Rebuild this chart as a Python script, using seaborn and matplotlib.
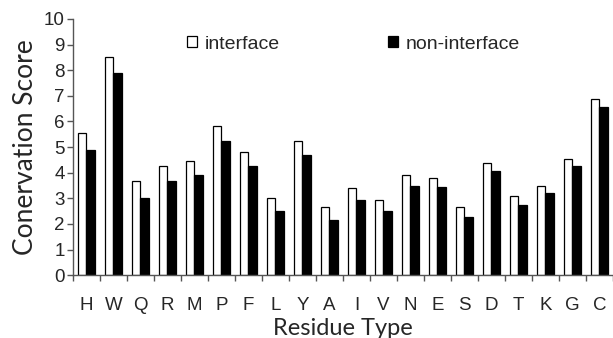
import matplotlib
matplotlib.use("Agg")
import matplotlib.pyplot as plt
import seaborn as sns
import pandas as pd
import numpy as np
from matplotlib.patches import Patch

residues = ["H", "W", "Q", "R", "M", "P", "F", "L", "Y", "A",
            "I", "V", "N", "E", "S", "D", "T", "K", "G", "C"]
interface = [5.53, 8.53, 3.67, 4.27, 4.44, 5.83, 4.79, 3.03, 5.22, 2.67,
             3.41, 2.92, 3.92, 3.78, 2.67, 4.36, 3.10, 3.48, 4.54, 6.86]
non_interface = [4.88, 7.90, 3.00, 3.67, 3.90, 5.23, 4.27, 2.50, 4.70, 2.15,
                 2.93, 2.51, 3.48, 3.43, 2.25, 4.07, 2.75, 3.19, 4.27, 6.57]
series = ["interface", "non-interface"]
yticks = list(range(0, 11))

df = pd.DataFrame({
    "Residue": residues * 2,
    "Score": interface + non_interface,
    "Series": [series[0]] * len(residues) + [series[1]] * len(residues),
})

sns.set_style("white")
plt.rcParams["font.family"] = ["Liberation Sans", "DejaVu Sans"]

fig = plt.figure(figsize=(6.13, 3.38), dpi=100)
ax = fig.add_axes([0.119, 0.186, 0.881, 0.758])

sns.barplot(data=df, x="Residue", y="Score", hue="Series", order=residues,
            hue_order=series, palette=["white", "black"], edgecolor="black",
            linewidth=0.9, width=0.64, gap=0.0, ax=ax, legend=False)

ax.set_xlim(-0.5, len(residues) - 0.5)
ax.set_ylim(0, 10)
ax.set_yticks(yticks)
ax.set_yticklabels([str(t) for t in yticks], fontsize=13.5)
ax.tick_params(axis="y", direction="out", length=4, width=1, color="#555555", pad=2, left=True)
ax.set_xticks(np.arange(len(residues)))
ax.set_xticklabels(residues, fontsize=13.5)
ax.set_xticks(np.arange(len(residues) + 1) - 0.5, minor=True)
ax.tick_params(axis="x", which="major", length=0, pad=16)
ax.tick_params(axis="x", which="minor", direction="out", length=4, width=1, color="#555555", bottom=True)

for s in ["top", "right"]:
    ax.spines[s].set_visible(False)
for s in ["left", "bottom"]:
    ax.spines[s].set_color("#555555")
    ax.spines[s].set_linewidth(1.0)

ax.set_ylabel("Conervation Score", fontsize=19, family=["Lato", "DejaVu Sans"], labelpad=4)
ax.set_xlabel("Residue Type", fontsize=17, family=["Lato", "DejaVu Sans"], labelpad=2.5)

handles = [Patch(facecolor="white", edgecolor="black", linewidth=0.9),
           Patch(facecolor="black", edgecolor="black", linewidth=0.9)]
leg = ax.legend(handles, series, ncol=2, loc="upper left", bbox_to_anchor=(0.211, 0.935),
                frameon=False, fontsize=14, handlelength=0.5, handleheight=0.5,
                handletextpad=0.4, columnspacing=5.6, borderpad=0, borderaxespad=0)

fig.savefig("out.png", dpi=100)
